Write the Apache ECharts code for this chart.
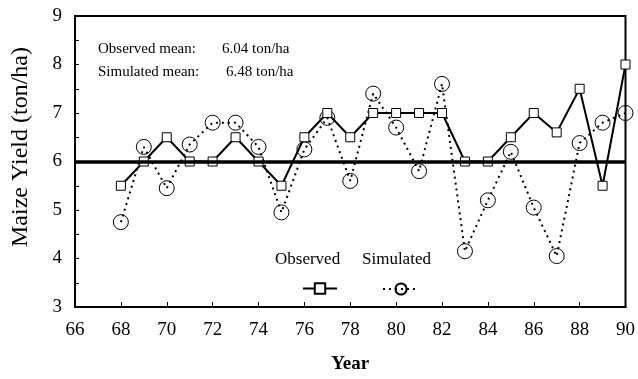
<!DOCTYPE html>
<html>
<head>
<meta charset="utf-8">
<script src="https://cdn.jsdelivr.net/npm/echarts@6/dist/echarts.min.js"></script>
<style>
  html, body { margin: 0; padding: 0; background: #fff; }
  #chart { width: 638px; height: 379px; }
</style>
</head>
<body>
<div id="chart"></div>
<script>
const years = [68, 69, 70, 71, 72, 73, 74, 75, 76, 77, 78, 79, 80, 81, 82, 83, 84, 85, 86, 87, 88, 89, 90]
const observed = [5.5, 6.0, 6.5, 6.0, 6.0, 6.5, 6.0, 5.5, 6.5, 7.0, 6.5, 7.0, 7.0, 7.0, 7.0, 6.0, 6.0, 6.5, 7.0, 6.6, 7.5, 5.5, 8.0]
const simulated = [4.75, 6.3, 5.45, 6.35, 6.8, 6.8, 6.3, 4.95, 6.25, 6.9, 5.6, 7.4, 6.7, 5.8, 7.6, 4.15, 5.2, 6.2, 5.05, 4.05, 6.38, 6.8, 7.0]
const referenceLevel = 6
const meanLabels = ['Observed mean:', 'Simulated mean:']
const meanValues = ['6.04 ton/ha', '6.48 ton/ha']

const font = '"Liberation Serif", "Times New Roman", serif'
const chart = echarts.init(document.getElementById('chart'), null, { renderer: 'canvas' })

const txt = (x, y, text, size, extra) => ({
  type: 'text', x, y,
  style: Object.assign({ text, font: size + 'px ' + font, fill: '#000', verticalAlign: 'middle' }, extra || {})
})

chart.setOption({
  animation: false,
  textStyle: { fontFamily: font, color: '#000' },
  grid: { left: 75, right: 11, top: 16, bottom: 70, show: true, borderColor: '#000', borderWidth: 2 },
  legend: [
    {
      data: ['Observed'], left: 297, top: 277, itemWidth: 34, itemHeight: 13,
      formatter: () => '', textStyle: { fontSize: 1 }
    },
    {
      data: ['Simulated'], left: 377, top: 277, itemWidth: 36, itemHeight: 14,
      formatter: () => '', textStyle: { fontSize: 1 }
    }
  ],
  graphic: [
    txt(98, 49, meanLabels[0], 15),
    txt(98, 72, meanLabels[1], 15),
    txt(222, 49, meanValues[0], 15),
    txt(226, 72, meanValues[1], 15),
    txt(275, 260, 'Observed', 17),
    txt(362, 260, 'Simulated', 17),
    Object.assign(txt(21, 147, 'Maize Yield (ton/ha)', 24, { align: 'center' }), { rotation: Math.PI / 2 })
  ],
  xAxis: {
    type: 'value', min: 66, max: 90, interval: 2,
    name: 'Year', nameLocation: 'middle', nameGap: 48,
    nameTextStyle: { fontSize: 19, fontWeight: 'bold', fontFamily: font, color: '#000' },
    axisLine: { lineStyle: { color: '#000', width: 2 } },
    axisTick: { inside: true, length: 5, lineStyle: { color: '#000' } },
    axisLabel: { fontSize: 19, color: '#000', margin: 14, fontFamily: font },
    splitLine: { show: false }
  },
  yAxis: {
    type: 'value', min: 3, max: 9, interval: 1,
    axisLine: { show: true, lineStyle: { color: '#000', width: 2 } },
    axisTick: { inside: true, length: 4, lineStyle: { color: '#000' } },
    minorTick: { show: true, splitNumber: 2, length: 4, lineStyle: { color: '#000' } },
    axisLabel: { fontSize: 19, color: '#000', margin: 13, fontFamily: font },
    splitLine: { show: false }
  },
  series: [
    {
      name: 'Observed', type: 'line', z: 3,
      data: years.map((y, i) => [y, observed[i]]),
      symbol: 'rect', symbolSize: 9,
      lineStyle: { color: '#000', width: 2 },
      itemStyle: { color: '#fff', borderColor: '#000', borderWidth: 1 },
      markLine: {
        silent: true, symbol: 'none', label: { show: false },
        lineStyle: { color: '#000', width: 3.5, type: 'solid' },
        data: [{ yAxis: referenceLevel }]
      }
    },
    {
      name: 'Simulated', type: 'line', z: 2,
      data: years.map((y, i) => [y, simulated[i]]),
      symbol: 'circle', symbolSize: 15,
      lineStyle: { color: '#000', width: 2, type: [2, 4] },
      itemStyle: { color: 'rgba(255,255,255,0)', borderColor: '#000', borderWidth: 1 }
    }
  ]
})
</script>
</body>
</html>
